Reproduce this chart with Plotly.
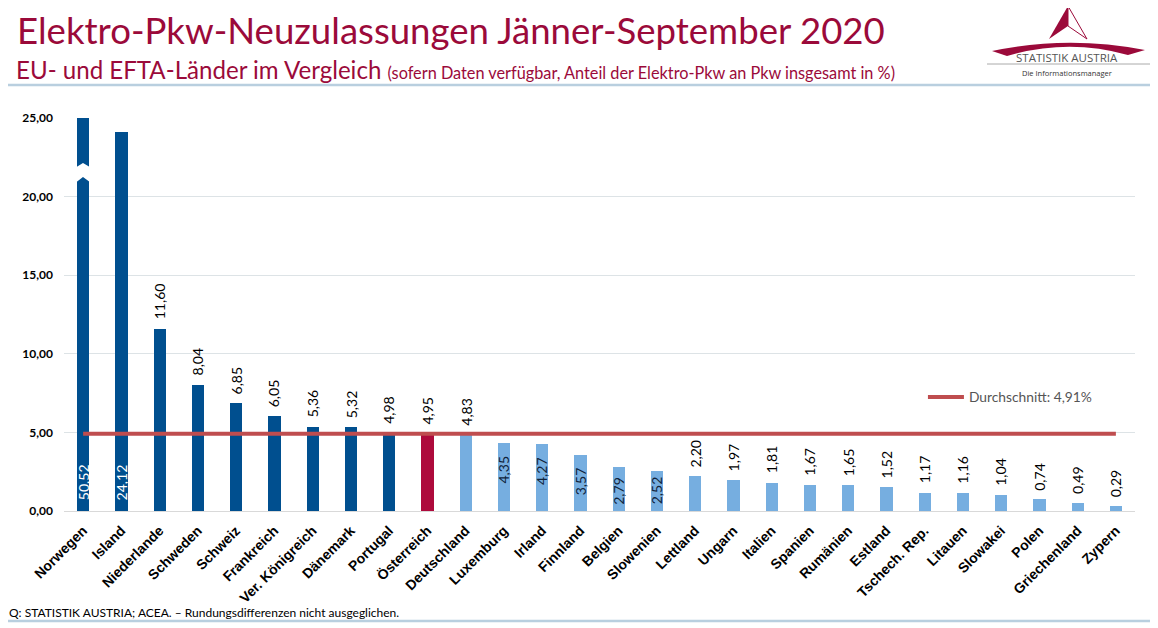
import plotly.graph_objects as go

countries = ['Norwegen', 'Island', 'Niederlande', 'Schweden', 'Schweiz', 'Frankreich', 'Ver. Königreich',
             'Dänemark', 'Portugal', 'Österreich', 'Deutschland', 'Luxemburg', 'Irland', 'Finnland', 'Belgien',
             'Slowenien', 'Lettland', 'Ungarn', 'Italien', 'Spanien', 'Rumänien', 'Estland', 'Tschech. Rep.',
             'Litauen', 'Slowakei', 'Polen', 'Griechenland', 'Zypern']
shares = [50.52, 24.12, 11.60, 8.04, 6.85, 6.05, 5.36, 5.32, 4.98, 4.95, 4.83, 4.35, 4.27, 3.57, 2.79, 2.52,
          2.20, 1.97, 1.81, 1.67, 1.65, 1.52, 1.17, 1.16, 1.04, 0.74, 0.49, 0.29]
average = 4.91
y_ticks = [0, 5, 10, 15, 20, 25]

DARK = '#004f8f'
LIGHT = '#76aee0'
RED = '#ae0a3c'
TITLE_RED = '#9b0a3a'
LINE_RED = '#bf4d4f'
RULE = '#b9cfdf'

# labels drawn inside the light bars, px below the bar top
inside_shift = {'Luxemburg': 11, 'Irland': 11, 'Finnland': 10, 'Belgien': 8, 'Slowenien': 3}


# slide furniture is placed in screenshot pixels, converted to paper coords
def px(x):
    return (x - 64) / 1071


def py(y):
    return (511 - y) / 393


def path(*cmds):
    out = []
    for c in cmds:
        if isinstance(c, str):
            out.append(c)
        else:
            out.append(f'{px(c[0]):.5f} {py(c[1]):.5f}')
    return ' '.join(out)


def bar_colour(name, i):
    if name == 'Österreich':
        return RED
    return DARK if i < 9 else LIGHT


def de(v):
    return f'{v:.2f}'.replace('.', ',')


def text(x, y, s, size, color, family='Lato', anchor='left'):
    fig.add_annotation(xref='paper', yref='paper', x=px(x), y=py(y), xanchor=anchor, yanchor='middle',
                       showarrow=False, text=s, font=dict(color=color, size=size, family=family))


fig = go.Figure()
fig.add_trace(go.Bar(x=countries, y=shares, width=0.32, showlegend=False,
                     marker=dict(color=[bar_colour(n, i) for i, n in enumerate(countries)], line_width=0)))
fig.add_trace(go.Scatter(x=countries, y=[average] * len(countries), mode='lines', name='Durchschnitt: 4,91%',
                         line=dict(color=LINE_RED, width=4)))

# value labels, rotated like in the slide
for i, (name, v) in enumerate(zip(countries, shares)):
    if i < 2:
        fig.add_annotation(x=name, y=0, text=de(v), textangle=-90, showarrow=False, yanchor='bottom',
                           yshift=9, font=dict(color='white', size=14, family='Lato'))
    elif name in inside_shift:
        fig.add_annotation(x=name, y=v, text=de(v), textangle=-90, showarrow=False, yanchor='top',
                           yshift=-inside_shift[name], font=dict(color='#10233a', size=14, family='Lato'))
    else:
        fig.add_annotation(x=name, y=v, text=de(v), textangle=-90, showarrow=False, yanchor='bottom', yshift=7,
                           font=dict(color='black', size=14, family='Lato'))

# axis break in the Norwegen bar
fig.add_shape(type='path', xref='paper', yref='paper', line_width=0, fillcolor='white',
              path=path('M', (76.5, 167), 'L', (83, 163), 'L', (89.8, 167), 'L', (89.8, 182), 'L', (83, 177),
                        'L', (76.5, 182), 'Z'))

# header and footer
text(14.5, 30, 'Elektro-Pkw-Neuzulassungen Jänner-September 2020', 36.6, TITLE_RED)
text(13.5, 69, 'EU- und EFTA-Länder im Vergleich <span style="font-size:16.3px">(sofern Daten verfügbar, '
               'Anteil der Elektro-Pkw an Pkw insgesamt in %)</span>', 24.1, TITLE_RED)
# the svg starts at x=8, so the footer cannot start further left than that
text(7, 612, 'Q: STATISTIK AUSTRIA; ACEA. – Rundungsdifferenzen nicht ausgeglichen.', 12, 'black')
for y in (85, 621):
    fig.add_shape(type='line', xref='paper', yref='paper', x0=px(4), x1=px(1150), y0=py(y), y1=py(y),
                  line=dict(color=RULE, width=2.5))

# logo
fig.add_shape(type='path', xref='paper', yref='paper', fillcolor='white', line=dict(color=TITLE_RED, width=1),
              path=path('M', (1068, 6), 'L', (1087, 39), 'L', (1068, 26), 'Z'))
fig.add_shape(type='path', xref='paper', yref='paper', line_width=0, fillcolor=TITLE_RED,
              path=path('M', (1068, 6), 'L', (1068, 26), 'L', (1049, 39), 'Z'))
fig.add_shape(type='path', xref='paper', yref='paper', line_width=0, fillcolor=TITLE_RED,
              path=path('M', (992, 51), 'Q', (1068, 35), (1145, 50), 'L', (1128, 55), 'Q', (1068, 38), (1007, 56), 'Z'))
fig.add_shape(type='line', xref='paper', yref='paper', x0=px(987), x1=px(1150), y0=py(64), y1=py(64),
              line=dict(color='#aaaaaa', width=1))
text(1067, 57, 'STATISTIK AUSTRIA', 11.5, '#555555', 'Open Sans', 'center')
text(1067, 73, 'Die Informationsmanager', 7.5, '#333333', 'Open Sans', 'center')

# the page adds an 8px body margin, so the figure is 8px short of the window
fig.update_layout(
    width=1150, height=620, autosize=False, paper_bgcolor='white', plot_bgcolor='white', bargap=0,
    margin=dict(l=56, r=23, t=110, b=117),
    font=dict(family='Liberation Sans', color='black'),
    legend=dict(x=0.802, y=0.29, xanchor='left', yanchor='middle', bgcolor='rgba(0,0,0,0)', itemwidth=36,
                font=dict(size=13.8, color='#555555', family='Lato')),
    xaxis=dict(tickangle=-45, tickfont=dict(size=14, family='Liberation Sans', weight='bold'), showgrid=False,
               showline=True, linecolor='#d9d9d9', ticks='', automargin=False, ticklabelstandoff=5),
    yaxis=dict(range=[0, 25], tickvals=y_ticks, ticktext=[de(t) for t in y_ticks], gridcolor='#dde3e6',
               tickfont=dict(size=12, family='Lato', weight='bold'), zeroline=False, ticks='', automargin=False,
               ticklabelstandoff=10),
)

fig.write_html("out.html")
